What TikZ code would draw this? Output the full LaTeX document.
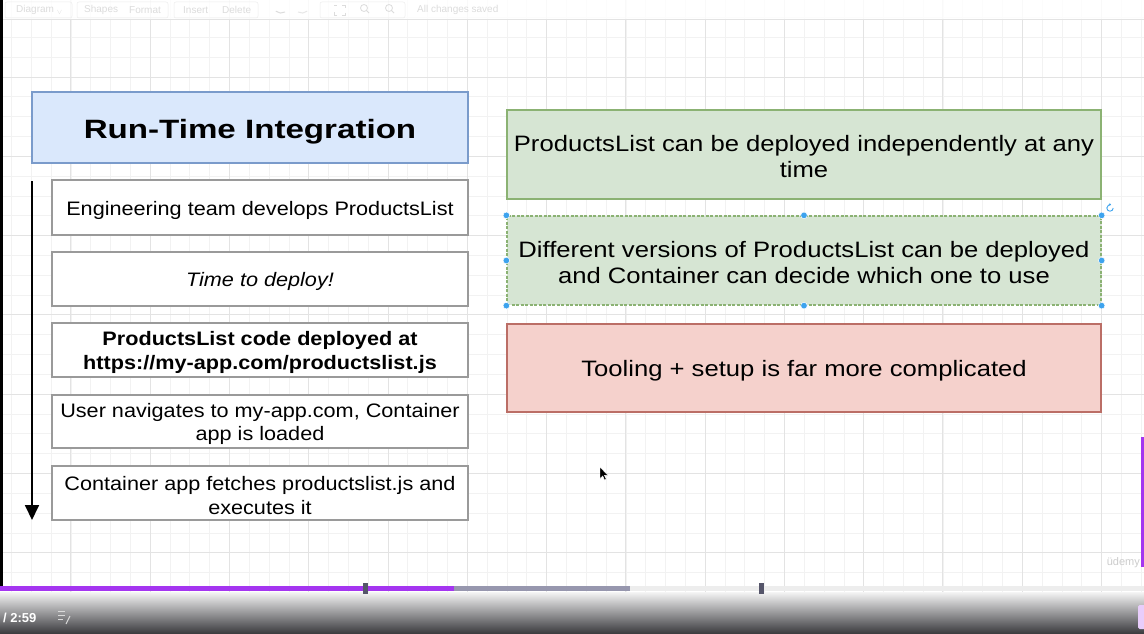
\documentclass[tikz,border=0pt]{standalone}
\usepackage{fontspec}
\setmainfont{Liberation Sans}[FakeStretch=1.11]
\newfontfamily\rightfont{Liberation Sans}[FakeStretch=1.15]
\newfontfamily\titlefont{Liberation Sans}[FakeStretch=1.25]
\newfontfamily\plainfont{Liberation Sans}
\usetikzlibrary{arrows.meta}
\definecolor{blueFill}{HTML}{DAE8FC}
\definecolor{blueLine}{HTML}{7A9BCB}
\definecolor{greenFill}{HTML}{D6E5D3}
\definecolor{greenLine}{HTML}{8BB273}
\definecolor{redFill}{HTML}{F5D1CC}
\definecolor{redLine}{HTML}{BB6E66}
\definecolor{boxGray}{HTML}{9A9A9A}
\definecolor{gridMinor}{HTML}{F2F2F2}
\definecolor{gridMajor}{HTML}{E3E3E3}
\definecolor{handleBlue}{HTML}{3DA3EE}
\definecolor{udPurple}{HTML}{A435F0}
\definecolor{barGray}{HTML}{9797AE}
\definecolor{markGray}{HTML}{55556A}
\definecolor{darkBar}{HTML}{38383C}
\definecolor{toolText}{HTML}{DCDCDC}
\tikzset{
  gridminorline/.style={draw=gridMinor, line width=0.6pt},
  gridmajorline/.style={draw=gridMajor, line width=0.7pt},
  titlebox/.style={draw=blueLine, fill=blueFill, line width=1.3pt, minimum width=436pt, minimum height=71pt, inner sep=0pt},
  titletext/.style={inner sep=0pt, font=\titlefont\fontsize{26.5}{30}\selectfont\bfseries},
  stepbox/.style={draw=boxGray, fill=white, line width=1.7pt, minimum width=416pt, inner sep=0pt},
  steptext/.style={inner sep=0pt, align=center, font=\fontsize{19.5}{23.3}\selectfont},
  greenbox/.style={draw=greenLine, fill=greenFill, line width=1.3pt, minimum width=594pt, minimum height=89pt, inner sep=0pt},
  redbox/.style={draw=redLine, fill=redFill, line width=1.3pt, minimum width=594pt, minimum height=88pt, inner sep=0pt},
  righttext/.style={inner sep=0pt, align=center, font=\rightfont\fontsize{22.3}{26}\selectfont},
  flowarrow/.style={draw=black, line width=1.8pt, -{Triangle[width=14pt,length=15pt]}},
  handle/.style={fill=handleBlue, draw=white, line width=0.5pt},
  tooltext/.style={text=toolText, font=\plainfont\fontsize{10}{12}\selectfont, inner sep=0pt, anchor=west},
  toolgroup/.style={draw=toolText!50, line width=0.5pt, rounded corners=2pt}
}
\begin{document}
\begin{tikzpicture}[x=1pt,y=-1pt]
\useasboundingbox (0,0) rectangle (1144,634);
\fill[white] (0,0) rectangle (1144,634);
% grid
\foreach \i in {-1,...,56} {\draw[gridminorline] ({31.2+19.82*\i},0) -- ({31.2+19.82*\i},634);}
\foreach \j in {-1,...,31} {\draw[gridminorline] (0,{37.3+19.82*\j}) -- (1144,{37.3+19.82*\j});}
\foreach \i in {-2,...,13} {\draw[gridmajorline] ({229.3+79.28*\i},0) -- ({229.3+79.28*\i},634);}
\foreach \j in {-1,...,7} {\draw[gridmajorline] (0,{77+79.28*\j}) -- (1144,{77+79.28*\j});}
% toolbar
\fill[white, opacity=0.8] (0,0) rectangle (1144,19);
\draw[gridMajor, line width=0.6pt] (0,19.3) -- (1144,19.3);
\draw[toolgroup] (5,2) rectangle (72,18);
\draw[toolgroup] (77,2) rectangle (168,18);
\draw[toolgroup] (174,2) rectangle (258,18);
\draw[toolgroup] (320,2) rectangle (405,18);
\node[tooltext] (tdiag) at (16,10) {Diagram \textsubscript{$\vee$}};
\node[tooltext] (tshapes) at (84,10) {Shapes};
\node[tooltext] (tformat) at (129,10) {Format};
\node[tooltext] (tinsert) at (183,10) {Insert};
\node[tooltext] (tdelete) at (222,10) {Delete};
\draw[toolText, line width=1pt] (285,12) arc (60:130:8);
\draw[toolText!70, line width=1pt] (298,12) arc (120:50:8);
\draw[toolText, line width=0.8pt] (334,6) -- (334,5) -- (337,5) (342,5) -- (345,5) -- (345,8) (345,13) -- (345,15) -- (342,15) (337,15) -- (334,15) -- (334,12);
\draw[toolText, line width=0.8pt] (364,8) circle (3.5) (366.5,10.5) -- (369,13);
\draw[toolText, line width=0.8pt] (389,8) circle (3.5) (391.5,10.5) -- (394,13);
\node[tooltext] (tsaved) at (417,10) {All changes saved};
% left black strip
\fill[black] (0,0) rectangle (3,586);
% title
\node[titlebox] (title) at (250,127.5) {};
\node[titletext] (titlet) at ([yshift=-4.5pt]title.center) {Run-Time Integration};
% steps
\node[stepbox, minimum height=55pt] (s1) at (260,207.5) {};
\node[stepbox, minimum height=54pt] (s2) at (260,279) {};
\node[stepbox, minimum height=54pt] (s3) at (260,350) {};
\node[stepbox, minimum height=53pt] (s4) at (260,421.5) {};
\node[stepbox, minimum height=54pt] (s5) at (260,493) {};
\node[steptext] (s1t) at ([yshift=-2.5pt]s1.center) {Engineering team develops ProductsList};
\node[steptext] (s2t) at ([yshift=-2.5pt]s2.center) {\itshape Time to deploy!};
\node[steptext] (s3t) at ([yshift=-2.5pt]s3.center) {\bfseries ProductsList code deployed at\\\bfseries https://my-app.com/productslist.js};
\node[steptext] (s4t) at ([yshift=-2.5pt]s4.center) {User navigates to my-app.com, Container\\app is loaded};
\node[steptext] (s5t) at ([yshift=-2.5pt]s5.center) {Container app fetches productslist.js and\\executes it};
% arrow
\coordinate (astart) at (32,181);
\coordinate (aend) at (32,520);
\draw[flowarrow] (astart) -- (aend);
% right boxes
\node[greenbox] (r1) at (804,154.5) {};
\node[greenbox, dashed, dash pattern=on 3pt off 1.5pt] (r2) at (804,260.5) {};
\node[redbox] (r3) at (804,368) {};
\node[righttext] (r1t) at ([yshift=-2.5pt]r1.center) {ProductsList can be deployed independently at any\\time};
\node[righttext] (r2t) at ([yshift=-2.5pt]r2.center) {Different versions of ProductsList can be deployed\\and Container can decide which one to use};
\node[righttext] (r3t) at ([yshift=-2.5pt]r3.center) {Tooling + setup is far more complicated};
% selection handles
\foreach \a in {north west,north,north east,east,south east,south,south west,west} {\fill[handle] (r2.\a) circle (3.3);}
\coordinate (rot) at (1110,208);
\draw[handleBlue, line width=0.9pt, -{Stealth[length=2.2pt,width=3pt]}] ([xshift=3.2pt]rot) arc (0:290:3.2);
% mouse cursor
\filldraw[fill=black, draw=white, line width=0.4pt] (600,467) -- (600,478.5) -- (602.7,476) -- (604.6,480) -- (606.2,479.2) -- (604.4,475.3) -- (607.8,475.3) -- cycle;
% bottom video bar
\shade[top color=white!96!black, bottom color=darkBar] (0,592) rectangle (1144,634);
\fill[white!93!black] (630,586) rectangle (1144,591);
\fill[barGray] (454,586) rectangle (630,591);
\fill[udPurple] (0,586) rectangle (454,591);
\fill[markGray] (362.5,583) rectangle (367.5,594);
\fill[markGray] (758.5,583) rectangle (763.5,594);
\node[text=white, font=\plainfont\fontsize{13}{15}\selectfont\bfseries, inner sep=0pt, anchor=west] (time) at (3,618) {/ 2:59};
\draw[white!85!black, line width=1pt] (58,611) -- (65,611) (58,615) -- (65,615) (58,619) -- (63,619);
\draw[white!85!black, line width=1pt] (70,616) -- (66,624);
% right side purple bar and watermark
\fill[udPurple] (1141,437) rectangle (1144,567);
\node[text=white!80!black, font=\plainfont\fontsize{11}{13}\selectfont, inner sep=0pt, anchor=east] (udemy) at (1140,563) {\"udemy};
\fill[white!75!udPurple, rounded corners=1.5pt] (1138,605) rectangle (1146,629);
\end{tikzpicture}
\end{document}
